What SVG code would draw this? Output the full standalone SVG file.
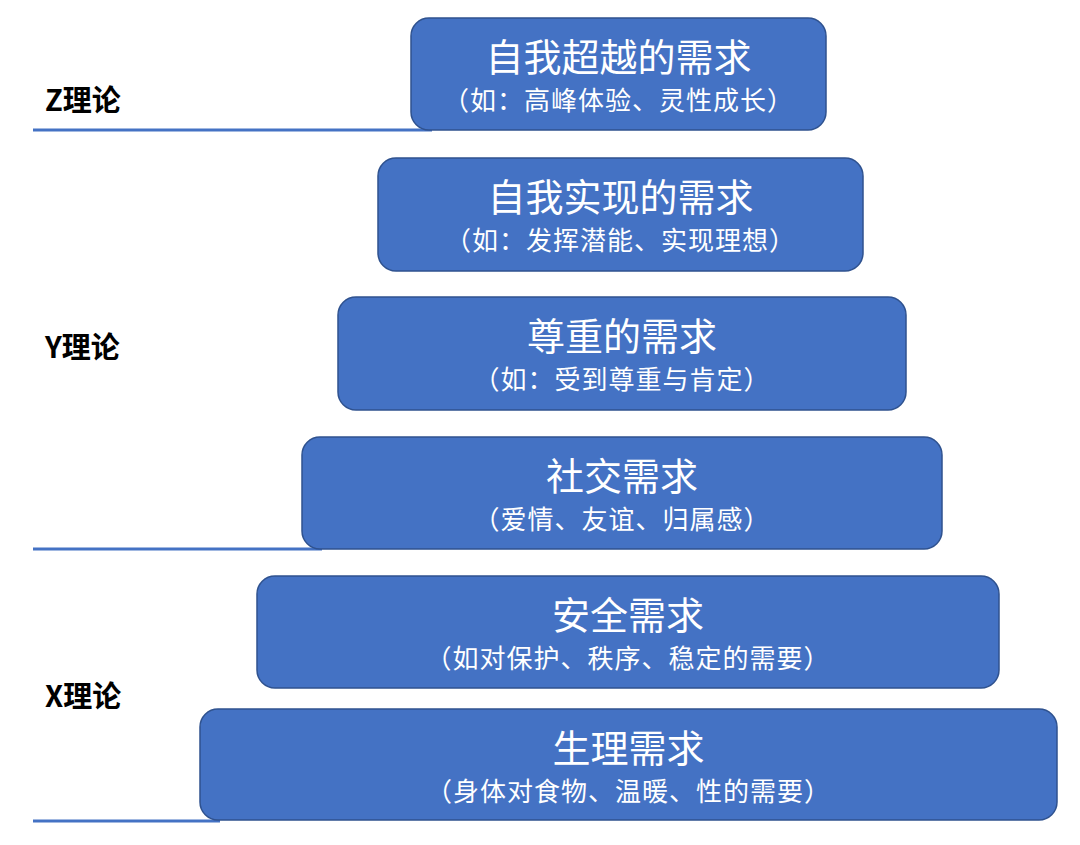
<svg xmlns="http://www.w3.org/2000/svg" width="1080" height="845" viewBox="0 0 1080 845">
<style>
.box{fill:#4472C4;stroke:#2F528F;stroke-width:1.5}
.t{font-family:"Noto Sans CJK SC","Liberation Sans",sans-serif;fill:#ffffff;text-anchor:middle}
.h{font-size:38px}
.s{font-size:26px;letter-spacing:1px}
.lab{font-family:"Noto Sans CJK SC","Liberation Sans",sans-serif;font-size:29px;font-weight:bold;fill:#000000}
.ln{stroke:#4472C4;stroke-width:3}
</style>
<rect width="1080" height="845" fill="#ffffff"/>
<g id="connectors">
<line class="ln" x1="33" y1="130" x2="432" y2="130"/>
<line class="ln" x1="33" y1="549" x2="322" y2="549"/>
<line class="ln" x1="33" y1="821" x2="220" y2="821"/>
</g>
<g id="label-z"><text class="lab" x="45" y="111">Z理论</text></g>
<g id="label-y"><text class="lab" x="45" y="358">Y理论</text></g>
<g id="label-x"><text class="lab" x="45" y="707">X理论</text></g>
<g id="n1">
<rect class="box" x="411" y="18" width="415" height="112" rx="18"/>
<text class="t h" x="618.5" y="71">自我超越的需求</text>
<text class="t s" x="618.5" y="110">（如：高峰体验、灵性成长）</text>
</g>
<g id="n2">
<rect class="box" x="378" y="158" width="485" height="113" rx="18"/>
<text class="t h" x="620.5" y="211">自我实现的需求</text>
<text class="t s" x="620.5" y="250">（如：发挥潜能、实现理想）</text>
</g>
<g id="n3">
<rect class="box" x="338" y="297" width="568" height="113" rx="18"/>
<text class="t h" x="622" y="350">尊重的需求</text>
<text class="t s" x="622" y="389">（如：受到尊重与肯定）</text>
</g>
<g id="n4">
<rect class="box" x="302" y="437" width="640" height="112" rx="18"/>
<text class="t h" x="622" y="490">社交需求</text>
<text class="t s" x="622" y="529">（爱情、友谊、归属感）</text>
</g>
<g id="n5">
<rect class="box" x="257" y="576" width="742" height="112" rx="18"/>
<text class="t h" x="628" y="629">安全需求</text>
<text class="t s" x="628" y="668">（如对保护、秩序、稳定的需要）</text>
</g>
<g id="n6">
<rect class="box" x="200" y="709" width="857" height="111" rx="18"/>
<text class="t h" x="628.5" y="762">生理需求</text>
<text class="t s" x="628.5" y="801">（身体对食物、温暖、性的需要）</text>
</g>
</svg>
